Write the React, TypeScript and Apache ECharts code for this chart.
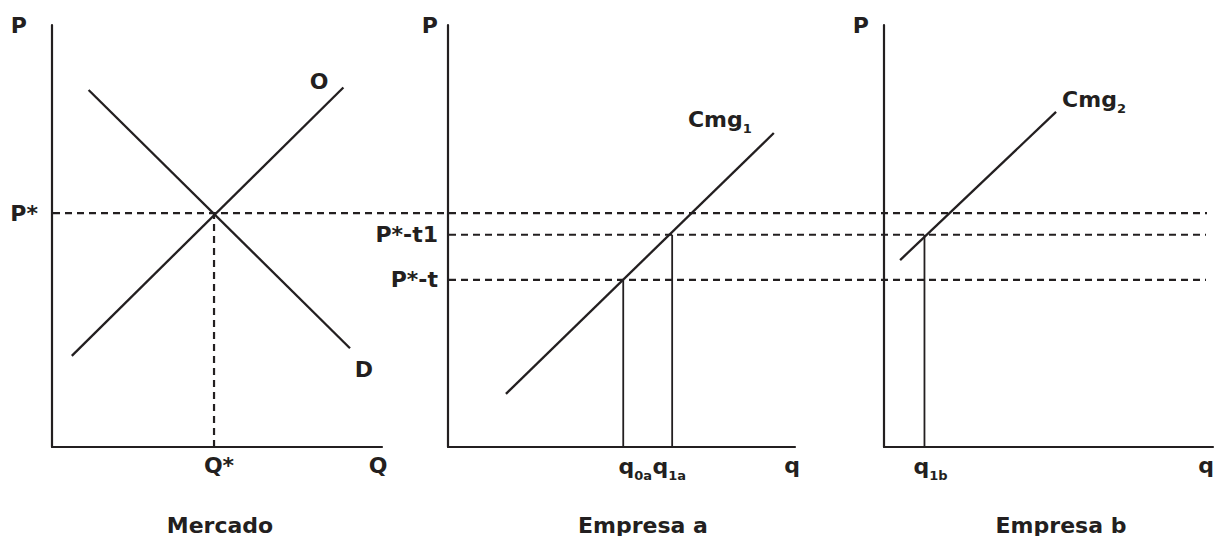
import React, { useEffect, useRef } from "react";
import * as echarts from "echarts";

// ---------- data (economic units: 0..100 on each axis) ----------
const priceLevelNames = ["P*", "P*-t1", "P*-t"];
const priceLevels = [55.4, 50.3, 39.6]; // P*, P*-t1, P*-t

// Mercado
const supplyO = [
  [6.0, 21.6],
  [88.3, 85.2],
];
const demandD = [
  [11.1, 84.6],
  [90.3, 23.4],
];
const qStar = [49.1];

// Empresa a
const cmg1 = [
  [16.7, 12.6],
  [93.9, 74.4],
];
const qFirmA = [50.5, 64.6]; // q0a, q1a
const qFirmALabels = ["0a", "1a"];

// Empresa b
const cmg2 = [
  [4.9, 44.3],
  [52.3, 79.4],
];
const qFirmB = [12.3]; // q1b
const qFirmBLabels = ["1b"];

const panelTitles = ["Mercado", "Empresa a", "Empresa b"];

// ---------- style ----------
const INK = "#231f20";
const FONT = "DejaVu Sans";
const DASH = [7, 5];

const rich = {
  m: { fontFamily: FONT, fontWeight: "bold", fontSize: 22, color: INK, lineHeight: 24 },
  s: { fontFamily: FONT, fontWeight: "bold", fontSize: 13, color: INK, verticalAlign: "bottom", lineHeight: 31 },
};

function lbl(value: number[], text: string, position: string, distance: number, offset: number[] = [0, 0]) {
  return {
    value,
    label: {
      show: true,
      formatter: text,
      position,
      distance,
      offset,
      color: INK,
      opacity: 1,
      textBorderWidth: 0,
      rich,
    },
  };
}

function labelSeries(idx: number, data: any[]) {
  return {
    type: "scatter",
    xAxisIndex: idx,
    yAxisIndex: idx,
    symbolSize: 0.001,
    itemStyle: { color: INK, opacity: 1 },
    silent: true,
    clip: false,
    data,
  };
}

function lineSeries(idx: number, data: number[][], width = 2.3, type: any = "solid") {
  return {
    type: "line",
    xAxisIndex: idx,
    yAxisIndex: idx,
    data,
    symbol: "none",
    silent: true,
    clip: false,
    lineStyle: { color: INK, width, type, cap: "butt" },
  };
}

export default function App() {
  const ref = useRef<HTMLDivElement>(null);

  useEffect(() => {
    if (!ref.current) return;
    const chart = echarts.init(ref.current, null, { renderer: "svg" });

    const grids = [
      { left: 52, top: 25, width: 330, height: 422 },
      { left: 448, top: 25, width: 347, height: 422 },
      { left: 884, top: 25, width: 329, height: 422 },
      { left: 53, top: 25, width: 1154, height: 422 }, // overlay for P*
      { left: 449, top: 25, width: 757, height: 422 }, // overlay for P*-t1, P*-t
    ];

    const visibleAxis = {
      type: "value",
      min: 0,
      max: 100,
      axisLine: { show: true, onZero: false, lineStyle: { color: INK, width: 2.2 } },
      axisTick: { show: false },
      axisLabel: { show: false },
      splitLine: { show: false },
    };
    const hiddenX = { type: "value", min: 0, max: 1, show: false };
    const hiddenY = { type: "value", min: 0, max: 100, show: false };

    const xAxis = [0, 1, 2].map((i) => ({ ...visibleAxis, gridIndex: i })).concat([
      { ...hiddenX, gridIndex: 3 } as any,
      { ...hiddenX, gridIndex: 4 } as any,
    ]);
    const yAxis = [0, 1, 2].map((i) => ({ ...visibleAxis, gridIndex: i })).concat([
      { ...hiddenY, gridIndex: 3 } as any,
      { ...hiddenY, gridIndex: 4 } as any,
    ]);

    const [pStar, pT1, pT] = priceLevels;

    const m = (t: string) => `{m|${t}}`;
    const ms = (t: string, s: string) => `{m|${t}}{s|${s}}`;

    const series: any[] = [
      // Mercado
      lineSeries(0, supplyO),
      lineSeries(0, demandD),
      lineSeries(0, [[qStar[0], 0], [qStar[0], pStar]], 2.2, DASH),
      // overlays
      lineSeries(3, [[0, pStar], [1, pStar]], 2.2, DASH),
      lineSeries(4, [[0, pT1], [1, pT1]], 2.2, DASH),
      lineSeries(4, [[0, pT], [1, pT]], 2.2, DASH),
      // Empresa a
      lineSeries(1, cmg1),
      lineSeries(1, [[qFirmA[0], 0], [qFirmA[0], pT]], 1.8),
      lineSeries(1, [[qFirmA[1], 0], [qFirmA[1], pT1]], 1.8),
      // Empresa b
      lineSeries(2, cmg2),
      lineSeries(2, [[qFirmB[0], 0], [qFirmB[0], pT1]], 1.8),
      // labels
      labelSeries(0, [
        lbl([0, 100], m("P"), "left", 25),
        lbl([0, pStar], m(priceLevelNames[0]), "left", 14),
        lbl(supplyO[1], m("O"), "left", 15, [0, -6]),
        lbl(demandD[1], m("D"), "bottom", 9, [14, 0]),
        lbl([qStar[0], 0], m("Q*"), "bottom", 6, [5, 0]),
        lbl([100, 0], m("Q"), "bottom", 6, [-4, 0]),
      ]),
      labelSeries(1, [
        lbl([0, 100], m("P"), "left", 10),
        lbl([0, pT1], m(priceLevelNames[1]), "left", 10),
        lbl([0, pT], m(priceLevelNames[2]), "left", 10),
        lbl(cmg1[1], ms("Cmg", "1"), "left", 22, [0, -14]),
        lbl([qFirmA[0], 0], ms("q", qFirmALabels[0]), "bottom", 4, [12, 0]),
        lbl([qFirmA[1], 0], ms("q", qFirmALabels[1]), "bottom", 4, [-3, 0]),
        lbl([100, 0], m("q"), "bottom", 6, [-3, 0]),
      ]),
      labelSeries(2, [
        lbl([0, 100], m("P"), "left", 15),
        lbl(cmg2[1], ms("Cmg", "2"), "right", 6, [0, -12]),
        lbl([qFirmB[0], 0], ms("q", qFirmBLabels[0]), "bottom", 4, [6, 0]),
        lbl([100, 0], m("q"), "bottom", 6, [-7, 0]),
      ]),
    ];

    const titleX = [220, 643, 1061];
    const graphic = panelTitles.map((t, i) => ({
      type: "text",
      x: titleX[i],
      y: 525,
      silent: true,
      style: {
        text: t,
        fill: INK,
        font: `bold 22px "${FONT}"`,
        textAlign: "center",
        textVerticalAlign: "middle",
      },
    }));

    chart.setOption({
      animation: false,
      backgroundColor: "#ffffff",
      grid: grids,
      xAxis,
      yAxis,
      series,
      graphic,
    });

    return () => chart.dispose();
  }, []);

  return (
    <div
      ref={ref}
      style={{ position: "absolute", left: 0, top: 0, width: 1216, height: 536 }}
    />
  );
}
